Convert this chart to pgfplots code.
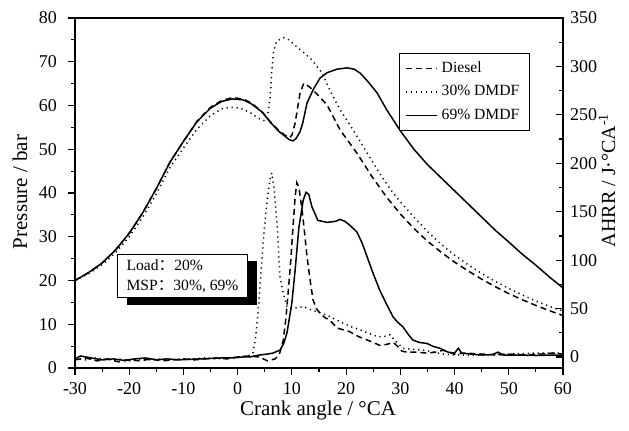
\documentclass[border=0pt]{standalone}
\usepackage{fontspec}
\setmainfont{Liberation Serif}
\newfontfamily\cjk{Noto Sans CJK SC}
\usepackage{pgfplots}
\pgfplotsset{compat=1.18}
\usetikzlibrary{shadows}

\pgfplotsset{
  engine/.style={
    width=244pt, height=175pt, scale only axis,
    xmin=-30, xmax=60,
    axis line style={line width=0.7pt},
    every tick/.style={line width=0.6pt, black},
    major tick length=3.5pt, minor tick length=2pt,
    tick label style={font=\fontsize{9}{10}\selectfont},
    /pgf/number format/assume math mode=true,
    label style={font=\fontsize{10.5}{12}\selectfont},
  },
  dieselline/.style={black, line width=0.75pt, dash pattern=on 3pt off 2pt},
  lowline/.style={black, line width=0.75pt, dash pattern=on 0.6pt off 1.9pt},
  highline/.style={black, line width=0.75pt},
}

\begin{document}
\begin{tikzpicture}
% pressure (left axis)
\begin{axis}[engine, name=main,
    ymin=0, ymax=80, ytick={0,10,...,80}, minor y tick num=1,
    xtick={-30,-20,...,60}, minor x tick num=1,
    xtick pos=bottom, ytick pos=left, tick align=outside,
    yticklabel style={xshift=-2pt},
    xlabel={Crank angle / °CA},
    ylabel={Pressure / bar},
    xlabel style={at={(axis description cs:0.498,-0.12)}, anchor=center},
    ylabel style={at={(axis description cs:-0.113,0.503)}, anchor=center},
    legend cell align=left,
    legend image code/.code={\draw[#1] (0pt,0pt) -- (15.5pt,0pt);},
    legend style={at={(0.932,0.9)}, anchor=north east, draw=black,
        line width=0.5pt, font=\fontsize{7.8}{9}\selectfont, row sep=1pt},
]
% Diesel
\addplot[dieselline] coordinates {
(-30,20.0) (-27.5,21.8) (-25,24.0) (-22.5,27.0) (-20,30.8) (-17.5,35.5)
(-15,41.0) (-12.5,47.0) (-10,51.8) (-7.5,56.4) (-5,59.6) (-3,61.1) (-1,61.8)
(1,61.5) (2.5,60.6) (4.5,58.6) (6,56.3) (7.5,54.4) (8.5,53.4) (9.5,52.6)
(10,53.2) (10.6,56.0) (11.5,62.8) (12.2,65.1) (13.3,64.2) (14.8,62.4)
(16.5,60.1) (18.9,54.4) (22,49.1) (24.8,43.7) (27.5,39.0) (30,35.2)
(32.5,31.9) (35,29.0) (37.5,26.5) (40,24.2) (42.5,22.2) (45,20.3)
(47.5,18.6) (50,17.0) (52.5,15.6) (55,14.3) (57.5,13.1) (60,12.0)
};
\addlegendentry{Diesel}
% 30% DMDF
\addplot[lowline] coordinates {
(-30,20.0) (-27.5,21.6) (-25,23.6) (-22.5,26.4) (-20,30.0) (-17.5,34.5)
(-15,39.8) (-12.5,45.8) (-10,50.3) (-7.5,54.6) (-5,57.7) (-3,59.2)
(-1.4,59.6) (0.5,59.4) (2.3,58.4) (3.8,57.1) (5,56.5) (5.5,57.5) (6,62.0)
(6.3,68.0) (6.6,72.0) (7.1,74.5) (8,75.3) (8.6,75.5) (9.5,75.0) (10.9,73.4)
(12.3,72.0) (13.7,70.4) (15.6,67.4) (17,63.5) (18.9,59.0) (21.3,54.4)
(23.9,49.1) (26.6,43.7) (28.5,40.3) (30,38.0) (32.5,34.5) (35,31.2)
(37.5,28.3) (40,25.8) (42.5,23.6) (45,21.6) (47.5,19.8) (50,18.2)
(52.5,16.7) (55,15.3) (57.5,14.1) (60,13.0)
};
\addlegendentry{30\% DMDF}
% 69% DMDF
\addplot[highline] coordinates {
(-30,20.0) (-27.5,21.8) (-25,24.0) (-22.5,27.0) (-20,30.8) (-17.5,35.5)
(-15,41.0) (-12.5,47.0) (-10,51.8) (-7.5,56.3) (-5,59.4) (-3,60.9) (-1,61.5)
(1,61.3) (2.5,60.4) (4.5,58.5) (6,56.2) (7.5,54.2) (8.5,53.2) (9.5,52.2)
(10.2,51.9) (10.8,52.5) (11.5,54.0) (12,56.0) (12.8,60.6) (14,63.8)
(15.2,66.3) (16.5,67.5) (18.3,68.3) (20.2,68.6) (21.5,68.3) (22.6,67.4)
(24,65.5) (25.7,62.9) (27.5,59.0) (29.9,54.4) (32.5,50.0) (35,46.5)
(37.5,43.5) (40,40.5) (42.5,37.5) (45,34.5) (47.5,31.5) (50,28.8)
(52.5,26.0) (55,23.5) (57.5,20.8) (60,18.3)
};
\addlegendentry{69\% DMDF}
\node[draw, fill=white, line width=0.5pt,
    drop shadow={shadow xshift=4.5pt, shadow yshift=-3.5pt, opacity=1, fill=black},
    anchor=north west, align=left, font=\fontsize{7.8}{10}\selectfont,
    inner xsep=3pt, inner ysep=2.5pt, minimum width=65pt]
    at (axis cs:-22.25,26.06) {Load{\cjk ：}20\%\\MSP{\cjk ：}30\%, 69\%};
\end{axis}
% AHRR (right axis)
\begin{axis}[engine,
    ymin=-11.4, ymax=350, ytick={0,50,...,350}, minor y tick num=1,
    axis y line*=right, axis x line=none, tick align=inside,
    ylabel={AHRR / J·°CA\textsuperscript{-1}},
    ylabel style={at={(axis description cs:1.09,0.537)}, anchor=center,
        font=\fontsize{10}{12}\selectfont},
]
\addplot[dieselline] coordinates {
(-30,-3) (-28,-1) (-26,-4) (-24,-2) (-22,-5) (-20,-3) (-18,-4) (-16,-2)
(-14,-4) (-12,-3) (-10,-2) (-8,-3) (-6,-2) (-4,-1) (-2,-2) (0,0) (2,1)
(4,0) (5.5,-4) (6.9,-2) (7.7,3) (8.4,17) (8.9,40) (9.3,66) (9.8,100)
(10.2,134) (10.6,165) (10.9,180) (11.3,175) (11.9,151) (12.4,125)
(12.8,103) (13.4,78) (13.9,59) (14.5,50) (15.2,45) (16,41) (17,38)
(18.3,30) (19.5,28) (20.7,26) (22.3,21) (23.9,17.5) (25,15) (26.2,12)
(27.5,13) (28.7,15) (29.5,11) (30.3,6) (31.2,5) (33,5) (34.9,4) (36.5,5)
(37.9,7) (40,3) (42,4) (45,3) (48,2) (50,3) (53,2) (56,3) (58,4) (60,3)
};
\addplot[lowline] coordinates {
(-30,-1) (-28,-3) (-26,-1) (-24,-3) (-22,-2) (-20,-4) (-18,-2) (-16,-3)
(-14,-2) (-12,-3) (-10,-2) (-8,-2) (-6,-1) (-4,-2) (-2,-1) (0,0) (2,1)
(2.8,4) (3.3,20) (3.8,48) (4.2,80) (4.7,118) (5.2,150) (5.6,169) (6.0,184)
(6.3,190) (6.7,175) (7.0,155) (7.3,134) (7.8,83) (8.4,66) (9.1,52)
(10.2,50) (11.0,51) (12.1,52) (13.9,48) (15,46) (16.5,43) (18,39)
(19.4,35) (21,31) (22.6,28) (24,25) (25.7,21) (27,21) (28.1,23) (29,17)
(30.5,9) (32,8) (34.2,7) (36,5) (38,3) (40,2) (45,2) (50,3) (55,4) (60,4)
};
\addplot[highline] coordinates {
(-30,-2) (-29,1) (-27,-1) (-25,-3) (-23,-2) (-21,-3.5) (-19,-2) (-17,-1)
(-15,-3) (-13,-2) (-11,-3) (-9,-2.5) (-7,-2) (-5,-1.5) (-3,-1) (-1,-1)
(1,0) (2.3,0) (4,2) (5.5,3) (6.5,4) (7.8,7) (8.5,14) (9.1,25) (10,56)
(10.6,90) (11.3,134) (12.1,162) (12.6,170) (13.1,168) (13.7,155)
(14.8,141) (16.5,139) (18,140) (18.9,142) (19.8,140) (20.7,136) (22,129)
(23,117) (23.9,103) (25,86) (26.2,69) (27.5,54) (28.7,41) (29.5,36)
(30.5,31) (31.5,23) (32.3,17.5) (33.5,15) (34.9,14) (36,11) (37.3,9)
(38.8,5) (40,4) (40.7,9) (41.3,4) (43,3) (45,2) (47,2.5) (48,5) (49,2)
(52,2) (55,1.5) (58,2) (60,2)
};
\end{axis}
\pgfresetboundingbox
\path ([xshift=-37.5pt,yshift=-31pt]main.south west)
    rectangle ([xshift=33pt,yshift=9pt]main.north east);
\end{tikzpicture}
\end{document}
